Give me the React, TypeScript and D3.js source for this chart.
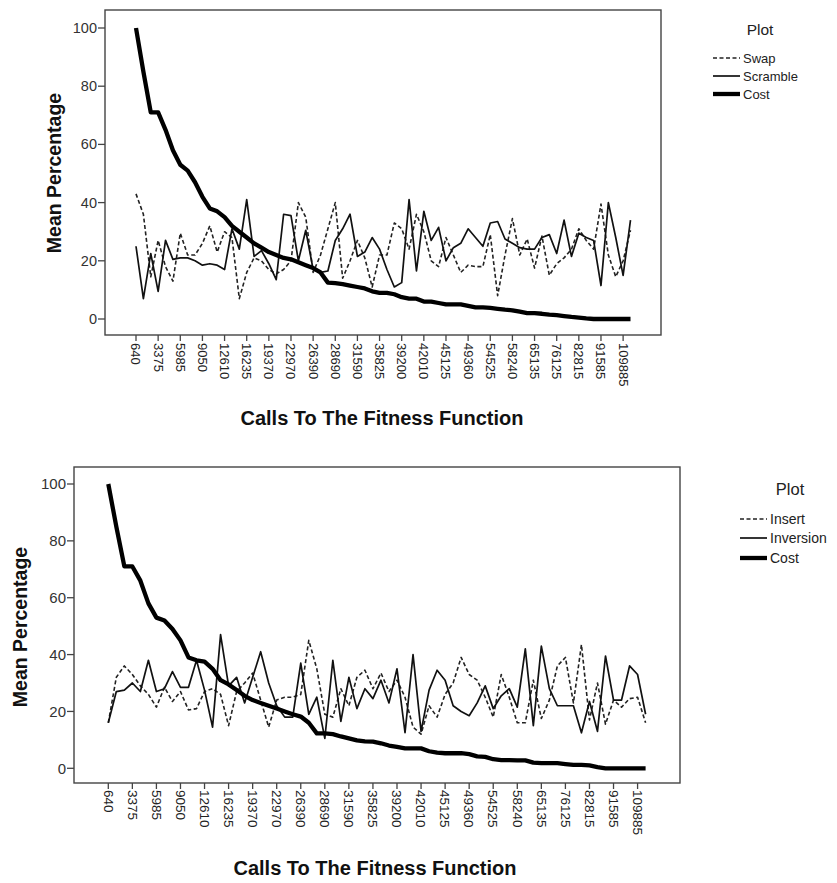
import * as d3 from "d3";

// labelled categories (every 3rd call count is shown on the axis)
const tickLabels = [
  "640", "3375", "5985", "9050", "12610", "16235", "19370", "22970", "26390", "28690",
  "31590", "35825", "39200", "42010", "45125", "49360", "54525", "58240", "65135", "76125",
  "82815", "91585", "109885",
];
const yTicks = [0, 20, 40, 60, 80, 100];

const costTop = [
  100, 85, 71, 71, 65, 58, 53, 51, 47, 42,
  38, 37, 35, 32, 30, 28, 26, 24.5, 23, 22,
  21, 20.5, 19.5, 18.5, 17.5, 16, 12.5, 12.3, 12, 11.5,
  11, 10.5, 9.5, 9, 9, 8.5, 7.5, 7, 7, 6,
  6, 5.5, 5, 5, 5, 4.5, 4, 4, 3.8, 3.5,
  3.2, 3, 2.5, 2, 2, 1.8, 1.5, 1.3, 1, 0.7,
  0.5, 0.2, 0, 0, 0, 0, 0, 0,
];
const swapTop = [
  43, 36, 14.5, 27, 18, 13, 29.5, 22, 22, 26,
  32, 23, 30, 28, 7, 16, 21, 20, 17, 15.5,
  17, 20, 40, 35, 16, 22, 31, 40, 14, 20,
  27, 21, 11, 22, 22, 33, 31, 24, 36, 30,
  20, 18, 28, 22, 16, 18.5, 18, 18, 29, 8,
  22, 34.5, 22, 27.5, 17.5, 28.5, 15, 19, 21, 24,
  31, 27, 24, 39.5, 22, 14.5, 20, 30.5,
];
const scrambleTop = [
  25, 7, 22.5, 9.5, 27, 20.5, 21, 21, 20, 18.5,
  19, 18.5, 17, 31, 24, 41, 21.5, 23.5, 19, 13.5,
  36, 35.5, 20, 30.5, 17, 16, 16.5, 27, 31, 36,
  21.5, 23, 28, 24, 17, 11, 12.5, 41, 16.5, 37,
  27, 31.5, 20, 24.5, 26, 31, 28, 25, 33, 33.5,
  27.5, 26, 24.5, 24, 24, 28, 29, 22.5, 34, 21.5,
  29.5, 28, 27, 11.5, 40, 28, 15, 34,
];

const costBottom = [
  100, 85, 71, 71, 66, 58, 53, 52, 49, 45,
  39, 38, 37.5, 35, 31, 29.5, 27.5, 25.5, 24, 23,
  22, 21, 20, 19, 18.2, 16, 12.3, 12.3, 12, 11.2,
  10.5, 9.8, 9.5, 9.4, 8.8, 8, 7.5, 7, 7, 7,
  6, 5.5, 5.3, 5.3, 5.3, 5, 4.2, 4, 3.2, 2.9,
  2.9, 2.8, 2.8, 2, 1.8, 1.8, 1.8, 1.5, 1.2, 1.2,
  1, 0.4, 0, 0, 0, 0, 0, 0,
];
const insertBottom = [
  16, 32, 36, 33, 29, 26, 21.5, 28.5, 23.5, 27,
  20.5, 21, 27, 28, 26, 15, 27, 30, 33.5, 24,
  14.5, 24, 25, 25, 26, 45, 35, 19, 18, 28,
  22, 32, 34.5, 28, 33.5, 27, 31, 25, 14.5, 12,
  22, 18, 26, 30, 39, 33, 31, 25, 18, 33,
  25, 16, 16, 31, 17.5, 24, 36, 39, 23, 43.5,
  17, 30, 15.5, 24, 21.5, 24.5, 25, 16,
];
const inversionBottom = [
  16, 27, 27.5, 30, 27, 38, 27, 28, 34, 28.5,
  28.5, 38, 27.5, 14.5, 47, 29, 32, 23, 32, 41,
  30, 22, 18, 18, 37, 19, 25, 10.5, 38, 16.5,
  32, 21, 28, 24.5, 31, 23, 35, 12.5, 40, 13,
  27.5, 34.5, 31, 22, 20, 18.5, 23, 29, 21, 25.5,
  28, 21.5, 42, 15, 43, 28, 22, 22, 22, 12.5,
  23.5, 13, 39.5, 24, 24, 36, 33, 19,
];

const font = "Liberation Sans, Arial, sans-serif";

const styles = {
  dashed: { width: 1.6, dash: "4,2.5", color: "#222" },
  solid: { width: 1.7, dash: null, color: "#111" },
  thick: { width: 4.3, dash: null, color: "#000" },
};

function Chart({ frame, xRange, yRange, series, legend, xLabelY, titleX, titleY, fs }) {
  const n = series[0].values.length;
  const x = d3.scalePoint().domain(d3.range(n)).range(xRange);
  const y = d3.scaleLinear().domain([0, 100]).range(yRange);
  const line = d3.line().x((d, i) => x(i)).y(d => y(d));

  return (
    <g>
      <rect x={frame.x0} y={frame.y0} width={frame.x1 - frame.x0} height={frame.y1 - frame.y0}
            fill="none" stroke="#444" strokeWidth={1.4}/>
      {yTicks.map(t => (
        <g key={t}>
          <line x1={frame.x0 - 7} x2={frame.x0} y1={y(t)} y2={y(t)} stroke="#444" strokeWidth={1.3}/>
          <text x={frame.x0 - 8} y={y(t)} dy="0.35em" textAnchor="end" fontSize={fs + 1.5} fill="#333"
                fontFamily={font}>{t}</text>
        </g>
      ))}
      {tickLabels.map((lab, k) => {
        const xi = x(k * 3);
        return (
          <g key={lab}>
            <line x1={xi} x2={xi} y1={frame.y1} y2={frame.y1 + 6} stroke="#444" strokeWidth={1.3}/>
            <text transform={`translate(${xi},${xLabelY}) rotate(90)`} dy="0.35em" fontSize={fs}
                  fill="#222" fontFamily={font}>{lab}</text>
          </g>
        );
      })}
      {series.map(s => {
        const st = styles[s.style];
        return (
          <path key={s.name} d={line(s.values)} fill="none" stroke={st.color} strokeWidth={st.width}
                strokeDasharray={st.dash || undefined} strokeLinejoin="round"/>
        );
      })}
      <text transform={`translate(${titleY.x},${titleY.y}) rotate(-90)`} textAnchor="middle"
            fontSize={19.5} fontWeight="bold" fontFamily={font} fill="#111">Mean Percentage</text>
      <text x={titleX.x} y={titleX.y} textAnchor="middle" fontSize={20} fontWeight="bold"
            fontFamily={font} fill="#111">Calls To The Fitness Function</text>
      <text x={legend.cx} y={legend.titleY} dy="0.35em" textAnchor="middle" fontSize={legend.fs + 2.5}
            fontFamily={font} fill="#222">Plot</text>
      {series.map((s, i) => {
        const st = styles[s.style];
        const ly = legend.rows[i];
        return (
          <g key={s.name}>
            <line x1={legend.x0} x2={legend.x1} y1={ly} y2={ly} stroke={st.color}
                  strokeWidth={st.width} strokeDasharray={st.dash || undefined}/>
            <text x={legend.x1 + 3} y={ly} dy="0.35em" fontSize={legend.fs} fontFamily={font}
                  fill="#222">{s.name}</text>
          </g>
        );
      })}
    </g>
  );
}

export default function App() {
  return (
    <svg width={837} height={883} style={{ position: "absolute", left: 0, top: 0, background: "#fff" }}>
      <Chart
        frame={{ x0: 105, y0: 10, x1: 661, y1: 335 }}
        xRange={[136, 630.5]}
        yRange={[319, 28]}
        xLabelY={343}
        fs={13}
        titleY={{ x: 61, y: 173 }}
        titleX={{ x: 382, y: 425 }}
        legend={{ cx: 760, titleY: 30, rows: [58, 76, 94], x0: 713, x1: 740, fs: 13 }}
        series={[
          { name: "Swap", values: swapTop, style: "dashed" },
          { name: "Scramble", values: scrambleTop, style: "solid" },
          { name: "Cost", values: costTop, style: "thick" },
        ]}
      />
      <Chart
        frame={{ x0: 74, y0: 467, x1: 680, y1: 783 }}
        xRange={[108.3, 645.6]}
        yRange={[768.3, 484]}
        xLabelY={790}
        fs={13.5}
        titleY={{ x: 27, y: 627 }}
        titleX={{ x: 375, y: 875 }}
        legend={{ cx: 790, titleY: 489, rows: [519, 538, 558], x0: 740, x1: 767, fs: 14 }}
        series={[
          { name: "Insert", values: insertBottom, style: "dashed" },
          { name: "Inversion", values: inversionBottom, style: "solid" },
          { name: "Cost", values: costBottom, style: "thick" },
        ]}
      />
    </svg>
  );
}
